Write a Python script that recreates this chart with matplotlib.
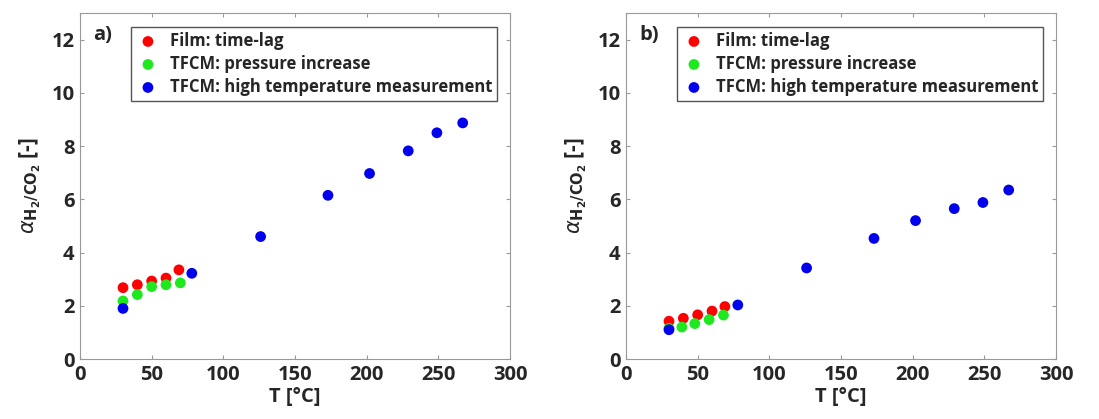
import numpy as np
import matplotlib.pyplot as plt

plt.rcParams['font.family'] = ['Open Sans', 'DejaVu Sans']
plt.rcParams['mathtext.fontset'] = 'dejavusans'

# panel a)
a_film_T = [30, 40, 50, 60, 69]
a_film_y = [2.68, 2.79, 2.93, 3.04, 3.35]
a_inc_T = [30, 40, 50, 60, 70]
a_inc_y = [2.18, 2.42, 2.72, 2.79, 2.86]
a_high_T = [30, 78, 126, 173, 202, 229, 249, 267]
a_high_y = [1.9, 3.22, 4.6, 6.15, 6.97, 7.82, 8.5, 8.87]

# panel b)
b_film_T = [30, 40, 50, 60, 69]
b_film_y = [1.42, 1.53, 1.66, 1.8, 1.97]
b_inc_T = [30, 39, 48, 58, 68]
b_inc_y = [1.15, 1.2, 1.33, 1.48, 1.65]
b_high_T = [30, 78, 126, 173, 202, 229, 249, 267]
b_high_y = [1.1, 2.03, 3.42, 4.53, 5.2, 5.65, 5.88, 6.35]

panels = [
    ('a)', a_film_T, a_film_y, a_inc_T, a_inc_y, a_high_T, a_high_y),
    ('b)', b_film_T, b_film_y, b_inc_T, b_inc_y, b_high_T, b_high_y),
]

fig = plt.figure(figsize=(10.99, 4.19), dpi=100)
lefts = [80 / 1099, 626 / 1099]
w = 430 / 1099
bottom = (419 - 359) / 419
h = 346 / 419

txt = '#262626'
for (lab, fT, fy, iT, iy, hT, hy), left in zip(panels, lefts):
    ax = fig.add_axes([left, bottom, w, h])
    ax.scatter(fT, fy, s=60, color='#ff0000', edgecolors='none', label='Film: time-lag', zorder=3)
    ax.scatter(iT, iy, s=60, color='#1ee81e', edgecolors='none', label='TFCM: pressure increase', zorder=3)
    ax.scatter(hT, hy, s=60, color='#0000ee', edgecolors='none', label='TFCM: high temperature measurement', zorder=4)
    ax.set_xlim(0, 300)
    ax.set_ylim(0, 13)
    ax.set_xticks(np.arange(0, 301, 50))
    ax.set_yticks(np.arange(0, 13, 2))
    ax.tick_params(direction='in', length=3, top=True, right=True, colors='#999999',
                   labelcolor=txt, labelsize=14.5, pad=4)
    for lbl in ax.get_xticklabels() + ax.get_yticklabels():
        lbl.set_fontweight('bold')
    for sp in ax.spines.values():
        sp.set_color('#999999')
    ax.set_xlabel('T [°C]', fontsize=14.5, fontweight='bold', color=txt, labelpad=2)
    ax.set_ylabel(r'$\alpha_{\mathbf{H_2/CO_2}}$ [-]', fontsize=15, fontweight='bold', color=txt, labelpad=6)
    ax.text(9, 12.0, lab, fontsize=14.5, fontweight='bold', color=txt)
    leg = ax.legend(loc='upper right', bbox_to_anchor=(0.97, 0.96), fancybox=False,
                    prop={'weight': 'bold', 'size': 12}, handletextpad=0.6,
                    borderpad=0.3, labelspacing=0.3, handlelength=1.4, framealpha=1,
                    borderaxespad=0)
    leg.get_frame().set_edgecolor('#555555')
    for t in leg.get_texts():
        t.set_color(txt)

fig.savefig('out.png', dpi=100)
